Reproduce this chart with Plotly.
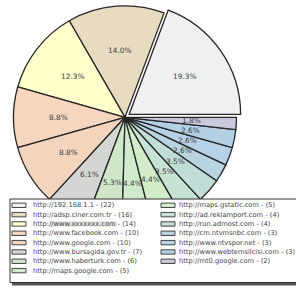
import plotly.graph_objects as go
import math

# ---- data ----
labels = [
    "http://192.168.1.1", "http://adsp.ciner.com.tr", "http://www.xxxxxxx.com",
    "http://www.facebook.com", "http://www.google.com", "http://www.bursagida.gov.tr",
    "http://www.haberturk.com", "http://maps.google.com", "http://maps.gstatic.com",
    "http://ad.reklamport.com", "http://run.admost.com", "http://cm.ntvmsnbc.com",
    "http://www.ntvspor.net", "http://www.webtemsilcisi.com", "http://mt0.google.com",
]
counts = [22, 16, 14, 10, 10, 7, 6, 5, 5, 4, 4, 3, 3, 3, 2]
colors = [
    "#f0f0f0", "#e8dcc0", "#ffffcc", "#f6d6bf", "#f4d4bd", "#d4d6d3", "#cfe6c9",
    "#d0ebcc", "#d2ecc9", "#c7e3d3", "#c0ddd8", "#b7d4e0", "#b6d2e6", "#b3d0e4",
    "#cbc9dc",
]
pulls = [0.045] + [0] * (len(counts) - 1)

W, H = 296, 289
def px(x):
    return x / W
def py(y):
    return 1 - y / H

cx, cy, r = 125, 117.3, 111.5
half = r * (1 + max(pulls))
total = sum(counts)

fig = go.Figure()
fig.add_trace(go.Pie(
    labels=labels, values=counts, sort=False, direction="counterclockwise",
    # plotly places the first counter-clockwise slice clockwise of `rotation`,
    # so rotate so that it begins at 3 o'clock and runs upward
    rotation=90 - 360 * counts[0] / total, pull=pulls, textposition="none",
    showlegend=False,
    marker=dict(colors=colors, line=dict(color="#262626", width=1.3)),
    domain=dict(x=[px(cx - half), px(cx + half)], y=[py(cy + half), py(cy - half)]),
    hoverinfo="label+percent",
))

annotations = []
shapes = []
cum = 0
for v, p in zip(counts, pulls):
    theta = 2 * math.pi * (cum + v / 2) / total
    R = 0.6 * r + p * r
    annotations.append(dict(
        x=px(cx + R * math.cos(theta)), y=py(cy - R * math.sin(theta)),
        xref="paper", yref="paper", showarrow=False,
        text=f"{100 * v / total:.1f}%",
        font=dict(size=7.4, color="#404040", family="DejaVu Sans"),
        xanchor="center", yanchor="middle",
    ))
    cum += v

# ---- legend (drawn manually, two columns) ----
shapes.append(dict(type="rect", xref="paper", yref="paper", layer="above",
                   x0=px(12), x1=px(302), y0=py(285.5), y1=py(202),
                   fillcolor="#555555", line=dict(width=0)))
shapes.append(dict(type="rect", xref="paper", yref="paper", layer="above",
                   x0=px(10), x1=px(300), y0=py(282.5), y1=py(199),
                   fillcolor="white", line=dict(color="#333333", width=1)))

row0, dy = 205.3, 9.33
for i, (lab, v, c) in enumerate(zip(labels, counts, colors)):
    col, row = divmod(i, 8)
    y = row0 + row * dy
    sx = 12 if col == 0 else 161
    tx = 31 if col == 0 else 177
    shapes.append(dict(type="rect", xref="paper", yref="paper", layer="above",
                       x0=px(sx), x1=px(sx + 14), y0=py(y + 2.2), y1=py(y - 2.2),
                       fillcolor=c, line=dict(color="#333333", width=0.9)))
    annotations.append(dict(
        x=px(tx), y=py(y), xref="paper", yref="paper", showarrow=False,
        text=f"{lab} - ({v})", xanchor="left", yanchor="middle",
        font=dict(size=6.7, color="#444444", family="DejaVu Sans"),
    ))

# anonymised (blurred) domain in the third legend entry
shapes.append(dict(type="rect", xref="paper", yref="paper", layer="above",
                   x0=px(50), x1=px(117), y0=py(row0 + 2 * dy + 2.6), y1=py(row0 + 2 * dy - 2.6),
                   fillcolor="#e2e2e2", opacity=0.95, line=dict(width=0)))

fig.update_layout(
    width=W, height=H, margin=dict(l=0, r=0, t=0, b=0),
    paper_bgcolor="white", plot_bgcolor="white",
    shapes=shapes, annotations=annotations,
    font=dict(family="DejaVu Sans"),
)
fig.write_html("out.html", config={"displayModeBar": False},
               post_script="document.body.style.margin='0';document.body.style.overflow='hidden';")
